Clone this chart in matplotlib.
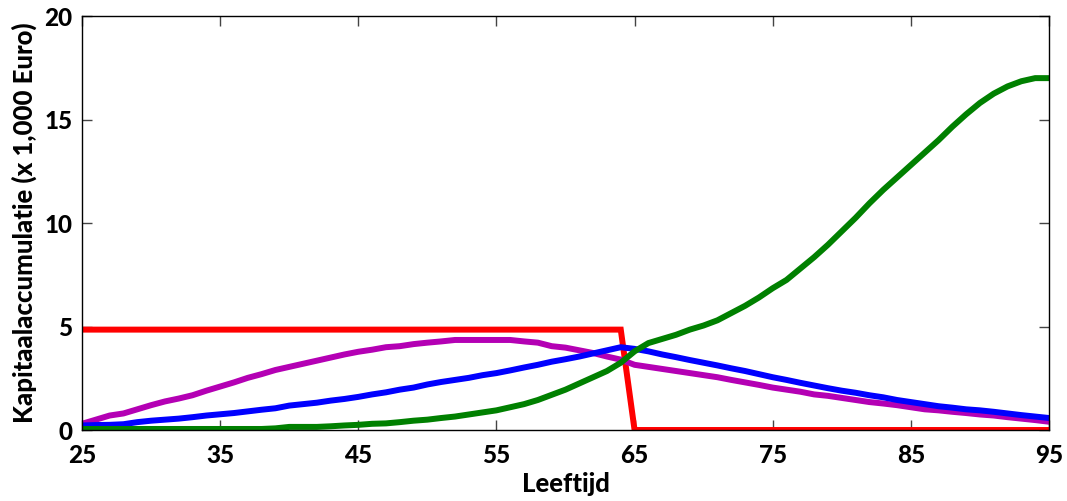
import numpy as np
import matplotlib.pyplot as plt

# === Data (age 25..95, one value per year) ===
ages = np.arange(25, 96)

red = [4.85] * 40 + [0.0] * 31

magenta = [0.30, 0.50, 0.70, 0.80, 1.00, 1.20, 1.38, 1.52, 1.68, 1.90,
           2.10, 2.30, 2.52, 2.70, 2.90, 3.05, 3.20, 3.35, 3.50, 3.65,
           3.78, 3.88, 4.00, 4.05, 4.15, 4.22, 4.28, 4.35, 4.35, 4.35,
           4.35, 4.35, 4.28, 4.22, 4.05, 3.98, 3.85, 3.72, 3.55, 3.40,
           3.15, 3.05, 2.95, 2.85, 2.75, 2.65, 2.55, 2.42, 2.30, 2.18,
           2.05, 1.95, 1.85, 1.72, 1.65, 1.55, 1.45, 1.35, 1.28, 1.20,
           1.10, 1.00, 0.95, 0.88, 0.82, 0.75, 0.70, 0.62, 0.55, 0.48,
           0.40]

blue = [0.22, 0.24, 0.25, 0.28, 0.38, 0.45, 0.50, 0.55, 0.62, 0.70,
        0.76, 0.82, 0.90, 0.98, 1.05, 1.18, 1.25, 1.32, 1.42, 1.50,
        1.60, 1.72, 1.82, 1.95, 2.05, 2.20, 2.32, 2.42, 2.52, 2.65,
        2.75, 2.88, 3.02, 3.15, 3.30, 3.42, 3.55, 3.70, 3.85, 4.00,
        3.92, 3.80, 3.65, 3.52, 3.38, 3.25, 3.12, 2.98, 2.85, 2.70,
        2.55, 2.42, 2.28, 2.15, 2.02, 1.90, 1.80, 1.68, 1.58, 1.45,
        1.35, 1.25, 1.15, 1.08, 1.00, 0.95, 0.88, 0.80, 0.72, 0.65,
        0.58]

green = [0.05] * 14 + [
         0.08, 0.15, 0.15, 0.15, 0.18, 0.22, 0.25, 0.30, 0.32, 0.38,
         0.45, 0.50, 0.58, 0.65, 0.75, 0.85, 0.95, 1.10, 1.25, 1.45,
         1.70, 1.95, 2.25, 2.55, 2.85, 3.25, 3.80, 4.20, 4.40, 4.60,
         4.85, 5.05, 5.30, 5.65, 6.00, 6.40, 6.85, 7.25, 7.80, 8.35,
         8.95, 9.60, 10.25, 10.95, 11.60, 12.20, 12.80, 13.40, 14.00, 14.65,
         15.25, 15.80, 16.25, 16.60, 16.85, 17.00, 17.00]

xticks = [25, 35, 45, 55, 65, 75, 85, 95]
yticks = [0, 5, 10, 15, 20]

plt.rcParams['font.family'] = ['Lato', 'DejaVu Sans']

fig = plt.figure(figsize=(10.67, 5.01), dpi=100)
ax = fig.add_axes([0.0769, 0.1417, 0.9062, 0.8263])

lw = 4.3
ax.plot(ages, red, color='#FF0000', lw=lw, solid_joinstyle='miter')
ax.plot(ages, magenta, color='#B400B4', lw=lw)
ax.plot(ages, blue, color='#0000FF', lw=lw)
ax.plot(ages, green, color='#008000', lw=lw)

ax.set_xlim(25, 95)
ax.set_ylim(0, 20)
ax.set_xticks(xticks)
ax.set_yticks(yticks)
ax.tick_params(direction='in', length=7, width=1, color='#444444',
               top=True, right=True, labelsize=17.5)
ax.tick_params(axis='x', pad=10)
ax.tick_params(axis='y', pad=7)
for lab in ax.get_xticklabels() + ax.get_yticklabels():
    lab.set_fontweight('black')
for s in ax.spines.values():
    s.set_linewidth(1)

ax.set_xlabel('Leeftijd', fontsize=18.5, fontweight='black', labelpad=4)
ax.set_ylabel('Kapitaalaccumulatie (x 1,000 Euro)', fontsize=18.5,
              fontweight='black', labelpad=5)

fig.savefig('out.png', dpi=100)
